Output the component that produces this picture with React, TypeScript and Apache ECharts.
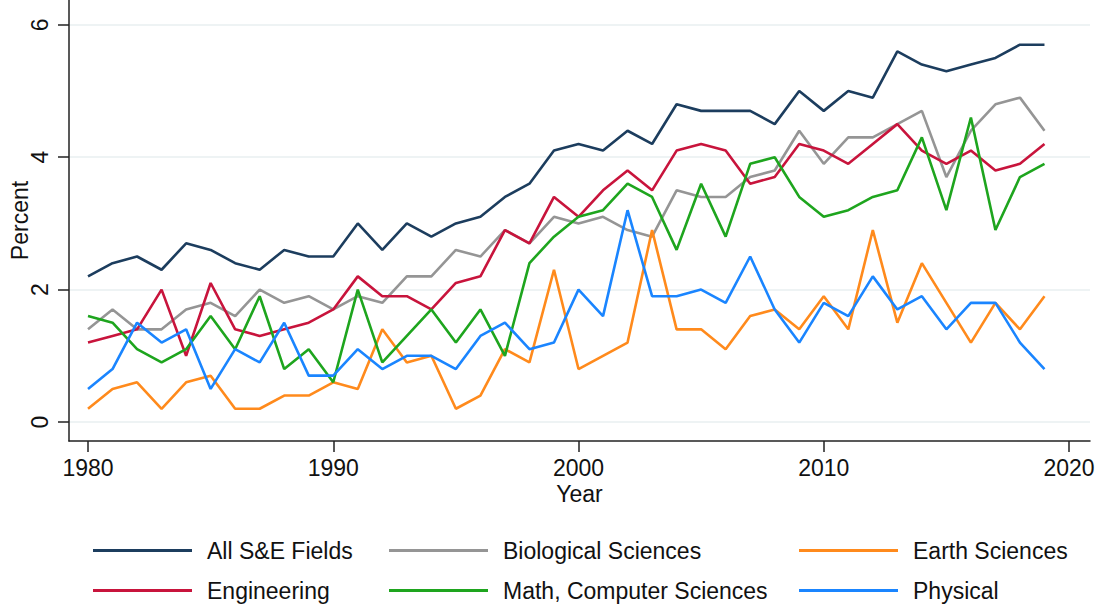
import React, { useEffect, useRef } from "react";
import * as echarts from "echarts";

const years = [
  1980, 1981, 1982, 1983, 1984, 1985, 1986, 1987, 1988, 1989,
  1990, 1991, 1992, 1993, 1994, 1995, 1996, 1997, 1998, 1999,
  2000, 2001, 2002, 2003, 2004, 2005, 2006, 2007, 2008, 2009,
  2010, 2011, 2012, 2013, 2014, 2015, 2016, 2017, 2018, 2019,
];

const allSE = [2.2, 2.4, 2.5, 2.3, 2.7, 2.6, 2.4, 2.3, 2.6, 2.5, 2.5, 3.0, 2.6, 3.0, 2.8, 3.0, 3.1, 3.4, 3.6, 4.1, 4.2, 4.1, 4.4, 4.2, 4.8, 4.7, 4.7, 4.7, 4.5, 5.0, 4.7, 5.0, 4.9, 5.6, 5.4, 5.3, 5.4, 5.5, 5.7, 5.7];
const biological = [1.4, 1.7, 1.4, 1.4, 1.7, 1.8, 1.6, 2.0, 1.8, 1.9, 1.7, 1.9, 1.8, 2.2, 2.2, 2.6, 2.5, 2.9, 2.7, 3.1, 3.0, 3.1, 2.9, 2.8, 3.5, 3.4, 3.4, 3.7, 3.8, 4.4, 3.9, 4.3, 4.3, 4.5, 4.7, 3.7, 4.4, 4.8, 4.9, 4.4];
const earth = [0.2, 0.5, 0.6, 0.2, 0.6, 0.7, 0.2, 0.2, 0.4, 0.4, 0.6, 0.5, 1.4, 0.9, 1.0, 0.2, 0.4, 1.1, 0.9, 2.3, 0.8, 1.0, 1.2, 2.9, 1.4, 1.4, 1.1, 1.6, 1.7, 1.4, 1.9, 1.4, 2.9, 1.5, 2.4, 1.8, 1.2, 1.8, 1.4, 1.9];
const engineering = [1.2, 1.3, 1.4, 2.0, 1.0, 2.1, 1.4, 1.3, 1.4, 1.5, 1.7, 2.2, 1.9, 1.9, 1.7, 2.1, 2.2, 2.9, 2.7, 3.4, 3.1, 3.5, 3.8, 3.5, 4.1, 4.2, 4.1, 3.6, 3.7, 4.2, 4.1, 3.9, 4.2, 4.5, 4.1, 3.9, 4.1, 3.8, 3.9, 4.2];
const mathCS = [1.6, 1.5, 1.1, 0.9, 1.1, 1.6, 1.1, 1.9, 0.8, 1.1, 0.6, 2.0, 0.9, 1.3, 1.7, 1.2, 1.7, 1.0, 2.4, 2.8, 3.1, 3.2, 3.6, 3.4, 2.6, 3.6, 2.8, 3.9, 4.0, 3.4, 3.1, 3.2, 3.4, 3.5, 4.3, 3.2, 4.6, 2.9, 3.7, 3.9];
const physical = [0.5, 0.8, 1.5, 1.2, 1.4, 0.5, 1.1, 0.9, 1.5, 0.7, 0.7, 1.1, 0.8, 1.0, 1.0, 0.8, 1.3, 1.5, 1.1, 1.2, 2.0, 1.6, 3.2, 1.9, 1.9, 2.0, 1.8, 2.5, 1.7, 1.2, 1.8, 1.6, 2.2, 1.7, 1.9, 1.4, 1.8, 1.8, 1.2, 0.8];

const xTicks = [1980, 1990, 2000, 2010, 2020];
const yTicks = [0, 2, 4, 6];

const seriesNames = [
  "All S&E Fields",
  "Biological Sciences",
  "Earth Sciences",
  "Engineering",
  "Math, Computer Sciences",
  "Physical",
];
const seriesValues = [allSE, biological, earth, engineering, mathCS, physical];
const seriesColors = ["#1c3d5e", "#959595", "#ff8a1c", "#c8143c", "#1ea51e", "#1a85ff"];

const FONT = "'Liberation Sans', Arial, Helvetica, sans-serif";

export default function App() {
  const ref = useRef<HTMLDivElement>(null);
  useEffect(() => {
    if (!ref.current) return;
    const chart = echarts.init(ref.current, undefined, { renderer: "svg" });
    const legendPos = [
      { left: 93, top: 539 },
      { left: 389, top: 539 },
      { left: 799, top: 539 },
      { left: 93, top: 579 },
      { left: 389, top: 579 },
      { left: 799, top: 579 },
    ];
    chart.setOption({
      animation: false,
      backgroundColor: "#ffffff",
      textStyle: { fontFamily: FONT },
      grid: { left: 69, right: 7, top: 0, bottom: 164, containLabel: false, outerBoundsMode: "none" },
      legend: seriesNames.map((n, i) => ({
        data: [n],
        left: legendPos[i].left,
        top: legendPos[i].top,
        icon: "rect",
        itemWidth: 99,
        itemHeight: 3,
        itemGap: 16,
        padding: 0,
        textStyle: { fontFamily: FONT, fontSize: 23, color: "#111", padding: [0, 0, 0, 10] },
      })),
      xAxis: {
        type: "value",
        min: 1979.225,
        max: 2020.856,
        name: "Year",
        nameLocation: "middle",
        nameGap: 41,
        nameMoveOverlap: false,
        nameTextStyle: { fontFamily: FONT, fontSize: 23, color: "#111" },
        axisLine: { onZero: false, lineStyle: { color: "#222", width: 1.5 } },
        axisTick: { show: true, length: 11, customValues: xTicks, lineStyle: { color: "#222", width: 1.5 } },
        axisLabel: { customValues: xTicks, fontSize: 23, color: "#111", margin: 15, fontFamily: FONT, formatter: (v: number) => String(v) },
        splitLine: { show: false },
      },
      yAxis: {
        type: "value",
        min: -0.287,
        max: 6.375,
        name: "Percent",
        nameLocation: "middle",
        nameRotate: 90,
        nameGap: 38,
        nameMoveOverlap: false,
        nameTextStyle: { fontFamily: FONT, fontSize: 23, color: "#111" },
        axisLine: { show: true, lineStyle: { color: "#222", width: 1.5 } },
        axisTick: { show: true, length: 11, customValues: yTicks, lineStyle: { color: "#222", width: 1.5 } },
        axisLabel: { customValues: yTicks, rotate: 90, fontSize: 23, color: "#111", margin: 18, fontFamily: FONT },
        splitLine: { show: true, lineStyle: { color: "#e8eff1", width: 1.5 } },
      },
      series: seriesNames.map((n, i) => ({
        name: n,
        type: "line",
        data: years.map((y, j) => [y, seriesValues[i][j]]),
        symbol: "none",
        showSymbol: false,
        lineStyle: { color: seriesColors[i], width: 2.6 },
        itemStyle: { color: seriesColors[i] },
        z: 2,
      })),
    });
    return () => chart.dispose();
  }, []);
  return (
    <div
      ref={ref}
      style={{ position: "fixed", left: 0, top: 0, width: 1097, height: 605, background: "#fff" }}
    />
  );
}
